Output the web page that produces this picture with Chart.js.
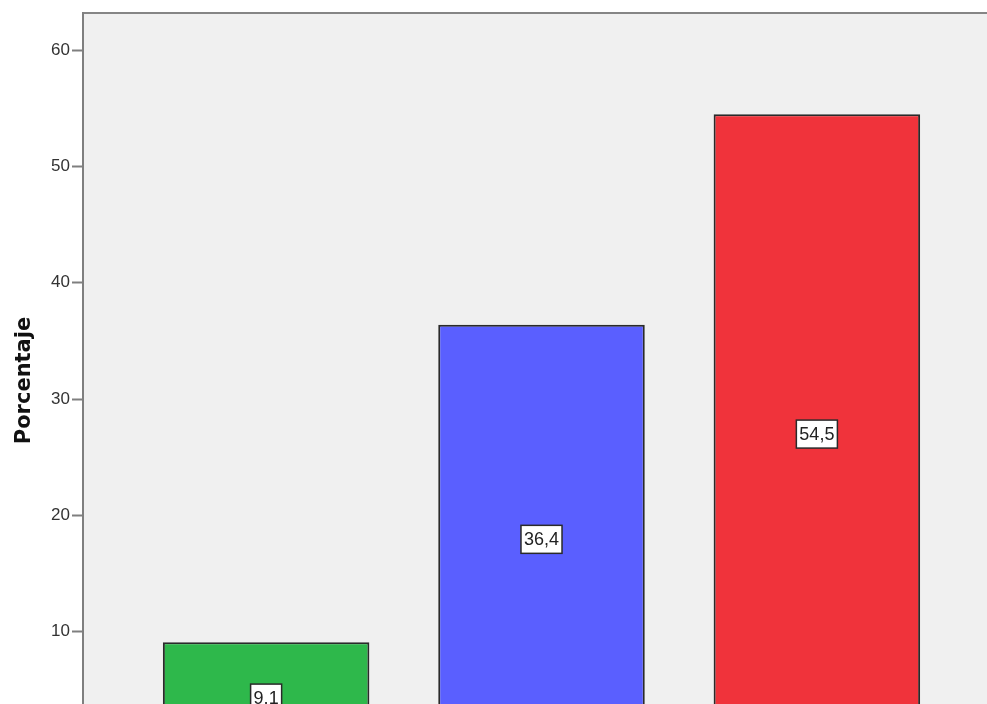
<!DOCTYPE html>
<html lang="es">
<head>
    <meta charset="UTF-8">
    <title>Porcentaje</title>
    <script src="https://cdn.jsdelivr.net/npm/chart.js"></script>
    <style>
        html, body { margin: 0; padding: 0; background: #ffffff; }
        /* la ventana muestra solo la parte de arriba, igual que la imagen recortada */
        .marco { width: 987px; height: 704px; overflow: hidden; position: relative; }
        .lienzo { width: 1002px; height: 750px; position: relative; }
    </style>
</head>
<body>
    <div class="marco">
        <div class="lienzo">
            <canvas id="graficoPorcentaje"></canvas>
        </div>
    </div>

    <script>
        // datos
        const categorias = ['Nivel 1', 'Nivel 2', 'Nivel 3'];
        const porcentajes = [9.1, 36.4, 54.5];
        const ticksY = [10, 20, 30, 40, 50, 60];

        // fondo gris del área del gráfico + borde superior
        const fondoPlot = {
            id: 'fondoPlot',
            beforeDraw(chart) {
                const { ctx, chartArea: a } = chart;
                ctx.save();
                ctx.fillStyle = '#f0f0f0';
                ctx.fillRect(a.left, a.top, a.right - a.left, a.bottom - a.top);
                ctx.strokeStyle = '#858585';
                ctx.lineWidth = 2;
                ctx.beginPath();
                ctx.moveTo(a.left, a.top);
                ctx.lineTo(a.right, a.top);
                ctx.lineTo(a.right, a.bottom);
                ctx.stroke();
                ctx.restore();
            }
        };

        // cajitas blancas con el valor en medio de cada barra
        const etiquetasBarras = {
            id: 'etiquetasBarras',
            afterDatasetsDraw(chart) {
                const { ctx } = chart;
                const y = chart.scales.y;
                const meta = chart.getDatasetMeta(0);
                ctx.save();
                ctx.font = '18px "Liberation Sans", Arial, sans-serif';
                ctx.textAlign = 'center';
                ctx.textBaseline = 'middle';
                meta.data.forEach((barra, i) => {
                    const texto = porcentajes[i].toFixed(1).replace('.', ',');
                    const cy = y.getPixelForValue(porcentajes[i] / 2) + 3;
                    const w = ctx.measureText(texto).width + 6;
                    const h = 28;
                    ctx.fillStyle = '#ffffff';
                    ctx.fillRect(barra.x - w / 2, cy - h / 2, w, h);
                    ctx.strokeStyle = '#2a2a2a';
                    ctx.lineWidth = 1.5;
                    ctx.strokeRect(barra.x - w / 2, cy - h / 2, w, h);
                    ctx.fillStyle = '#222222';
                    ctx.fillText(texto, barra.x, cy + 1);
                });
                ctx.restore();
            }
        };

        const ctxPorcentaje = document.getElementById('graficoPorcentaje').getContext('2d');
        const graficoPorcentaje = new Chart(ctxPorcentaje, {
            type: 'bar',
            data: {
                labels: categorias,
                datasets: [{
                    label: 'Porcentaje',
                    data: porcentajes.map((v, i) => ({ x: i, y: v })),
                    backgroundColor: ['#2eb84b', '#5a5fff', '#f0333b'],
                    borderColor: '#2a2a2a',
                    borderWidth: 2,
                    categoryPercentage: 1,
                    barPercentage: 0.75
                }]
            },
            options: {
                responsive: true,
                maintainAspectRatio: false,
                animation: false,
                layout: { padding: { top: 13, right: 2, bottom: 2, left: 0 } },
                plugins: {
                    legend: { display: false },
                    tooltip: { enabled: false }
                },
                scales: {
                    x: {
                        type: 'linear',
                        min: -0.665,
                        max: 2.665,
                        offset: false,
                        display: false,
                        afterBuildTicks: (s) => { s.ticks = categorias.map((c, i) => ({ value: i })); }
                    },
                    y: {
                        min: 0,
                        max: 63.2,
                        afterBuildTicks: (s) => { s.ticks = ticksY.map(v => ({ value: v })); },
                        afterFit: (s) => {
                            s.width = 83;
                            // sin margen extra por las etiquetas de los extremos
                            s.paddingTop = 0;
                            s.paddingBottom = 0;
                        },
                        border: { display: true, color: '#7f7f7f', width: 2 },
                        grid: { drawOnChartArea: false, drawTicks: true, tickLength: 11, tickWidth: 2, color: '#7f7f7f' },
                        ticks: {
                            padding: 2,
                            color: '#333333',
                            font: { family: '"Liberation Sans", Arial, sans-serif', size: 17 }
                        },
                        title: {
                            display: true,
                            text: 'Porcentaje',
                            color: '#111111',
                            font: { family: '"DejaVu Sans", sans-serif', size: 21, weight: 'bold' },
                            padding: { top: 12, bottom: 0 }
                        }
                    }
                }
            },
            plugins: [fondoPlot, etiquetasBarras]
        });
    </script>
</body>
</html>
